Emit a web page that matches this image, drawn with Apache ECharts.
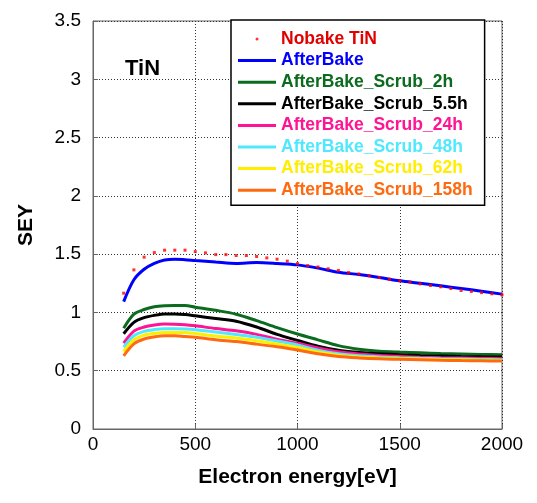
<!DOCTYPE html>
<html>
<head>
<meta charset="utf-8">
<script src="https://cdn.jsdelivr.net/npm/echarts@6/dist/echarts.min.js"></script>
<style>
    html, body { margin: 0; padding: 0; background: #fff; }
    #main { width: 537px; height: 503px; }
</style>
</head>
<body>
<div id="main"></div>
<script>
// energy grid of the measured curves [eV]
var energy = [150, 200, 250, 300, 350, 400, 450, 500, 600, 700, 800, 900, 1000,
    1100, 1200, 1300, 1400, 1500, 1600, 1700, 1800, 1900, 2000];
// Nobake TiN is sampled every 50 eV
var energyNobake = [150, 200, 250, 300, 350, 400, 450, 500, 550, 600, 650, 700, 750,
    800, 850, 900, 950, 1000, 1050, 1100, 1150, 1200, 1250, 1300, 1350, 1400, 1450,
    1500, 1550, 1600, 1650, 1700, 1750, 1800, 1850, 1900, 1950, 2000];

var nobake = [1.165, 1.365, 1.474, 1.513, 1.534, 1.534, 1.534, 1.522, 1.511, 1.496,
    1.496, 1.488, 1.488, 1.48, 1.468, 1.457, 1.44, 1.419, 1.402, 1.39, 1.374, 1.36,
    1.342, 1.33, 1.314, 1.30, 1.285, 1.271, 1.26, 1.245, 1.231, 1.22, 1.205, 1.188,
    1.18, 1.17, 1.16, 1.151];
var afterBake = [1.093, 1.28, 1.37, 1.42, 1.45, 1.457, 1.452, 1.445, 1.432, 1.42,
    1.428, 1.42, 1.408, 1.38, 1.345, 1.325, 1.3, 1.271, 1.25, 1.228, 1.205, 1.182, 1.157];
var scrub2h = [0.865, 0.985, 1.025, 1.048, 1.057, 1.06, 1.059, 1.045, 1.018, 0.985,
    0.93, 0.87, 0.815, 0.765, 0.715, 0.685, 0.668, 0.66, 0.654, 0.648, 0.644, 0.64, 0.637];
var scrub5h = [0.817, 0.915, 0.955, 0.975, 0.987, 0.987, 0.982, 0.971, 0.948, 0.925,
    0.875, 0.812, 0.76, 0.71, 0.675, 0.657, 0.645, 0.637, 0.63, 0.626, 0.622, 0.619, 0.617];
var scrub24h = [0.737, 0.84, 0.875, 0.892, 0.9, 0.899, 0.894, 0.885, 0.862, 0.843,
    0.812, 0.77, 0.735, 0.695, 0.662, 0.643, 0.63, 0.622, 0.615, 0.611, 0.608, 0.605, 0.603];
var scrub48h = [0.703, 0.8, 0.838, 0.853, 0.86, 0.86, 0.857, 0.851, 0.832, 0.81,
    0.787, 0.755, 0.72, 0.675, 0.645, 0.628, 0.618, 0.612, 0.607, 0.603, 0.6, 0.597, 0.595];
var scrub62h = [0.665, 0.765, 0.805, 0.82, 0.828, 0.828, 0.828, 0.82, 0.797, 0.78,
    0.757, 0.73, 0.7, 0.66, 0.632, 0.617, 0.61, 0.605, 0.6, 0.596, 0.593, 0.59, 0.588];
var scrub158h = [0.628, 0.73, 0.772, 0.79, 0.8, 0.8, 0.794, 0.788, 0.766, 0.75,
    0.728, 0.705, 0.678, 0.645, 0.622, 0.61, 0.602, 0.598, 0.594, 0.59, 0.587, 0.585, 0.583];

var names = ['Nobake TiN', 'AfterBake', 'AfterBake_Scrub_2h', 'AfterBake_Scrub_5.5h',
    'AfterBake_Scrub_24h', 'AfterBake_Scrub_48h', 'AfterBake_Scrub_62h', 'AfterBake_Scrub_158h'];
var colors = ['#ff0000', '#0000ff', '#0b6b1e', '#000000', '#ff1493', '#50e8ff', '#ffee00', '#ff6a10'];
var lines = [afterBake, scrub2h, scrub5h, scrub24h, scrub48h, scrub62h, scrub158h];

function pairs(xs, ys) {
    var d = [];
    for (var i = 0; i < ys.length; i++) {
        d.push([xs[i], ys[i]]);
    }
    return d;
}

var chart = echarts.init(document.getElementById('main'));

var series = [];
for (var i = 0; i < lines.length; i++) {
    series.push({
        name: names[i + 1],
        type: 'line',
        data: pairs(energy, lines[i]),
        showSymbol: false,
        smooth: 0.3,
        color: colors[i + 1],
        lineStyle: { width: 3, color: colors[i + 1] },
        z: 3
    });
}
// 红点画在蓝线上面
series.push({
    name: names[0],
    type: 'scatter',
    data: pairs(energyNobake, nobake),
    symbol: 'rect',
    symbolSize: 3,
    itemStyle: { color: colors[0] },
    z: 4
});

var legendData = [];
for (var i = 0; i < names.length; i++) {
    legendData.push({
        name: names[i],
        icon: i == 0 ? 'circle' : 'rect',
        textStyle: { color: colors[i] == '#ff0000' ? '#e00000' : colors[i] }
    });
}

var font = 'Liberation Sans';
var option = {
    backgroundColor: '#fff',
    animation: false,
    title: {
        text: 'TiN',
        left: 120,
        top: 53,
        textStyle: { color: '#000', fontSize: 22, fontWeight: 'bold', fontFamily: font }
    },
    grid: {
        left: 93, top: 21, right: 35, bottom: 74,
        show: true, borderColor: '#666', borderWidth: 1
    },
    legend: {
        orient: 'vertical',
        left: 231,
        top: 20,
        padding: [10, 12, 6, 7],
        itemWidth: 38,
        itemHeight: 3,
        itemGap: 3.6,
        backgroundColor: '#fff',
        borderColor: '#000',
        borderWidth: 1.5,
        borderRadius: 0,
        data: legendData,
        textStyle: { fontSize: 17.5, fontWeight: 'bold', fontFamily: font }
    },
    xAxis: {
        type: 'value',
        min: 0, max: 2000, interval: 500,
        name: 'Electron energy[eV]',
        nameLocation: 'middle',
        nameGap: 38,
        nameTextStyle: { color: '#000', fontSize: 21, fontWeight: 'bold', fontFamily: font },
        axisLine: { lineStyle: { color: '#666' } },
        axisTick: { inside: true, length: 5, lineStyle: { color: '#666' } },
        axisLabel: {
            color: '#000', fontSize: 19, fontFamily: font, margin: 6,
            formatter: function (v) { return String(v); }
        },
        splitLine: { show: true, lineStyle: { color: '#333', type: [1, 2], width: 1 } }
    },
    yAxis: {
        type: 'value',
        min: 0, max: 3.5, interval: 0.5,
        name: 'SEY',
        nameLocation: 'middle',
        nameGap: 56,
        nameTextStyle: { color: '#000', fontSize: 21, fontWeight: 'bold', fontFamily: font },
        axisLine: { show: true, lineStyle: { color: '#666' } },
        axisTick: { show: true, inside: true, length: 5, lineStyle: { color: '#666' } },
        axisLabel: { color: '#000', fontSize: 19, fontFamily: font, margin: 12 },
        splitLine: { show: true, lineStyle: { color: '#333', type: [1, 2], width: 1 } }
    },
    series: series
};
chart.setOption(option);
</script>
</body>
</html>
